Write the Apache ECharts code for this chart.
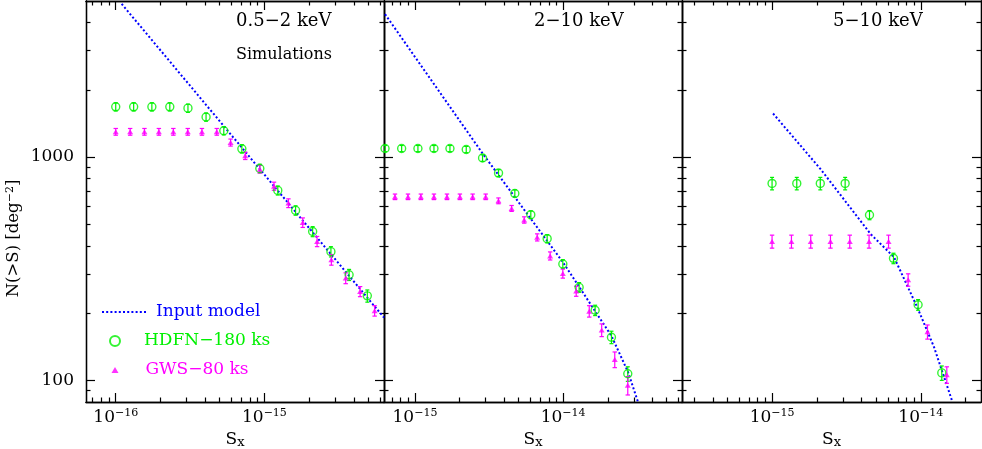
<!DOCTYPE html>
<html><head><meta charset="utf-8">
<script src="https://cdn.jsdelivr.net/npm/echarts@6/dist/echarts.min.js"></script>
<style>html,body{margin:0;padding:0;background:#fff}#c{width:982px;height:449px}</style>
</head><body><div id="c"></div>
<script>
// ---------------- data ----------------
const panelTitles = ['0.5\u22122 keV', '2\u221210 keV', '5\u221210 keV'];
const subTitle = 'Simulations';
const seriesNames = ['Input model', 'HDFN\u2212180 ks', 'GWS\u221280 ks'];

// axis ranges
const xRanges = [[6.31e-17, 6.37e-15], [6.18e-16, 6.34e-14], [2.48e-16, 2.54e-14]];
const yRange = [80, 5000];
const xLabelTicks = [[1e-16, 1e-15], [1e-15, 1e-14], [1e-15, 1e-14]];
const yLabelTicks = [100, 1000];

// panel 1 : 0.5-2 keV
const model1X = [1.096e-16, 9.31e-16, 6.37e-15];
const model1Y = [4853, 883, 191];
const hdfn1X = [1.00e-16, 1.32e-16, 1.75e-16, 2.31e-16, 3.06e-16, 4.05e-16, 5.33e-16, 7.05e-16, 9.31e-16, 1.23e-15, 1.62e-15, 2.11e-15, 2.80e-15, 3.71e-15, 4.92e-15];
const hdfn1Y = [1679, 1679, 1679, 1679, 1656, 1511, 1312, 1089, 889, 709, 577, 464, 377, 297, 239];
const hdfn1E = [70, 70, 70, 70, 70, 63, 55, 46, 40, 33, 28, 24, 20, 17, 15];
const gws1X = [1.00e-16, 1.25e-16, 1.56e-16, 1.95e-16, 2.44e-16, 3.05e-16, 3.80e-16, 4.78e-16, 5.92e-16, 7.43e-16, 9.31e-16, 1.16e-15, 1.45e-15, 1.81e-15, 2.26e-15, 2.82e-15, 3.52e-15, 4.40e-15, 5.51e-15];
const gws1Y = [1298, 1298, 1298, 1298, 1298, 1298, 1298, 1298, 1162, 1013, 883, 741, 622, 509, 419, 347, 287, 250, 205];
const gws1E = [45, 45, 45, 45, 45, 45, 45, 45, 42, 38, 35, 31, 28, 25, 22, 19, 16, 13, 11];

// panel 2 : 2-10 keV
const model2X = [6.28e-16, 2.86e-15, 1.0e-14, 2.12e-14, 2.74e-14, 3.2e-14];
const model2Y = [4365, 1038, 337, 158, 109, 80];
const hdfn2X = [6.28e-16, 8.13e-16, 1.047e-15, 1.343e-15, 1.722e-15, 2.218e-15, 2.858e-15, 3.664e-15, 4.72e-15, 6.05e-15, 7.80e-15, 9.95e-15, 1.282e-14, 1.644e-14, 2.118e-14, 2.73e-14];
const hdfn2Y = [1092, 1092, 1092, 1092, 1092, 1081, 990, 848, 687, 552, 431, 332, 261, 206, 156, 107];
const hdfn2E = [35, 35, 35, 35, 35, 35, 33, 30, 26, 22, 18, 15, 13, 11, 10, 8];
const gws2X = [7.33e-16, 8.97e-16, 1.096e-15, 1.343e-15, 1.644e-15, 2.01e-15, 2.45e-15, 3.00e-15, 3.66e-15, 4.49e-15, 5.46e-15, 6.68e-15, 8.17e-15, 9.95e-15, 1.225e-14, 1.50e-14, 1.82e-14, 2.23e-14, 2.73e-14];
const gws2Y = [664, 664, 664, 664, 664, 664, 664, 664, 637, 589, 523, 437, 361, 301, 251, 204, 168, 124, 95];
const gws2E = [19, 19, 19, 19, 19, 19, 19, 19, 19, 18, 17, 16, 15, 14, 13, 12, 11, 10, 9];

// panel 3 : 5-10 keV
const model3X = [1.016e-15, 2.12e-15, 4.60e-15, 6.61e-15, 9.48e-15, 1.227e-14, 1.633e-14];
const model3Y = [1567, 883, 452, 356, 212, 141, 80];
const hdfn3X = [1.00e-15, 1.466e-15, 2.11e-15, 3.10e-15, 4.52e-15, 6.55e-15, 9.59e-15, 1.384e-14];
const hdfn3Y = [762, 762, 762, 762, 550, 352, 218, 108];
const hdfn3E = [49, 49, 49, 49, 26, 19, 12, 8];
const gws3X = [1.00e-15, 1.35e-15, 1.82e-15, 2.47e-15, 3.33e-15, 4.49e-15, 6.07e-15, 8.22e-15, 1.109e-14, 1.496e-14];
const gws3Y = [419, 419, 419, 419, 419, 419, 419, 282, 165, 106];
const gws3E = [28, 28, 28, 28, 28, 28, 28, 18, 12, 9];

// ---------------- build chart ----------------
const FONT = 'DejaVu Serif';
const BLUE = '#0000ff', GREEN = '#00f000', MAGENTA = '#ff00ff';
const L = Math.log10;

const panels = [
  {mx: model1X, my: model1Y, hx: hdfn1X, hy: hdfn1Y, he: hdfn1E, gx: gws1X, gy: gws1Y, ge: gws1E},
  {mx: model2X, my: model2Y, hx: hdfn2X, hy: hdfn2Y, he: hdfn2E, gx: gws2X, gy: gws2Y, ge: gws2E},
  {mx: model3X, my: model3Y, hx: hdfn3X, hy: hdfn3Y, he: hdfn3E, gx: gws3X, gy: gws3Y, ge: gws3E}
];

function pts(xs, ys) { return xs.map((x, i) => [L(x), L(ys[i])]); }
function errs(xs, ys, es) { return xs.map((x, i) => [L(x), L(ys[i] - es[i]), L(ys[i] + es[i])]); }
function minorTicks(lo, hi) {
  const out = [];
  for (let d = Math.floor(lo) - 1; d <= Math.ceil(hi); d++) {
    for (let m = 2; m <= 9; m++) {
      const v = d + L(m);
      if (v > lo + 1e-4 && v < hi - 1e-4) out.push(v);
    }
  }
  return out;
}

const grids = [
  {left: 86, top: 1, width: 298, height: 401},
  {left: 384, top: 1, width: 298, height: 401},
  {left: 682, top: 1, width: 299, height: 401}
].map(g => Object.assign(g, {outerBoundsMode: 'none', containLabel: false}));

const yLo = L(yRange[0]), yHi = L(yRange[1]);
const yMajor = yLabelTicks.map(L);
const yMinor = minorTicks(yLo, yHi);

const xAxes = [], yAxes = [];
const lineSt = {color: '#000', width: 1.3};
const tickSt = {color: '#000', width: 1.2};

function axisBase(g, pos, lo, hi, major, majors, minors) {
  return {
    type: 'value', gridIndex: g, position: pos, min: lo, max: hi,
    axisLine: {show: true, onZero: false, lineStyle: lineSt},
    axisTick: {show: true, inside: true, length: major ? 9 : 4.5, customValues: major ? majors : minors, lineStyle: tickSt},
    axisLabel: {show: false},
    splitLine: {show: false}
  };
}

for (let g = 0; g < 3; g++) {
  const lo = L(xRanges[g][0]), hi = L(xRanges[g][1]);
  const xMaj = xLabelTicks[g].map(L);
  const xMin = minorTicks(lo, hi);
  const xb = axisBase(g, 'bottom', lo, hi, true, xMaj, xMin);
  xb.axisLabel = {
    show: true, customValues: xMaj, margin: 6,
    formatter: v => '{b|10}{s|\u2212' + Math.round(-v) + '}',
    rich: {
      b: {fontFamily: FONT, fontSize: 17, lineHeight: 20, color: '#000'},
      s: {fontFamily: FONT, fontSize: 11, lineHeight: 12, verticalAlign: 'top', color: '#000'}
    }
  };
  xb.name = '{b|S}{s|x}';
  xb.nameLocation = 'middle';
  xb.nameGap = 26;
  xb.nameTextStyle = {
    rich: {
      b: {fontFamily: FONT, fontSize: 17, lineHeight: 18, color: '#000'},
      s: {fontFamily: FONT, fontSize: 13, lineHeight: 6, verticalAlign: 'bottom', color: '#000'}
    }
  };
  xAxes.push(xb);
  xAxes.push(axisBase(g, 'bottom', lo, hi, false, xMaj, xMin));
  xAxes.push(axisBase(g, 'top', lo, hi, true, xMaj, xMin));
  xAxes.push(axisBase(g, 'top', lo, hi, false, xMaj, xMin));

  const yl = axisBase(g, 'left', yLo, yHi, true, yMajor, yMinor);
  if (g === 0) {
    yl.axisLabel = {
      show: true, customValues: yMajor, margin: 12,
      formatter: v => String(Math.round(Math.pow(10, v))),
      fontFamily: FONT, fontSize: 17, color: '#000'
    };
    yl.name = '{b|N(>S) [deg}{s|\u22122}{b|]}';
    yl.nameLocation = 'middle';
    yl.nameGap = 63;
    yl.nameTextStyle = {
      padding: [0, 74, 0, 0],
      rich: {
        b: {fontFamily: FONT, fontSize: 16.5, lineHeight: 18, color: '#000'},
        s: {fontFamily: FONT, fontSize: 11, lineHeight: 12, verticalAlign: 'top', color: '#000'}
      }
    };
  }
  yAxes.push(yl);
  yAxes.push(axisBase(g, 'left', yLo, yHi, false, yMajor, yMinor));
  yAxes.push(axisBase(g, 'right', yLo, yHi, true, yMajor, yMinor));
  yAxes.push(axisBase(g, 'right', yLo, yHi, false, yMajor, yMinor));
}

function errRender(cap, color, width) {
  return function (params, api) {
    const x = api.value(0), lo = api.value(1), hi = api.value(2);
    const p1 = api.coord([x, lo]), p2 = api.coord([x, hi]);
    const st = {stroke: color, lineWidth: width};
    return {type: 'group', children: [
      {type: 'line', shape: {x1: p1[0], y1: p1[1], x2: p2[0], y2: p2[1]}, style: st},
      {type: 'line', shape: {x1: p1[0] - cap, y1: p1[1], x2: p1[0] + cap, y2: p1[1]}, style: st},
      {type: 'line', shape: {x1: p2[0] - cap, y1: p2[1], x2: p2[0] + cap, y2: p2[1]}, style: st}
    ]};
  };
}

const DOT = {color: BLUE, width: 2, type: [2, 2.2]};
const series = [];
panels.forEach((p, g) => {
  const xi = 4 * g, yi = 4 * g;
  series.push({
    name: seriesNames[0], type: 'line', xAxisIndex: xi, yAxisIndex: yi,
    data: pts(p.mx, p.my), symbol: 'none', clip: true, z: 2,
    lineStyle: DOT, itemStyle: {color: BLUE}
  });
  series.push({
    name: 'hdfn-err', type: 'custom', xAxisIndex: xi, yAxisIndex: yi,
    data: errs(p.hx, p.hy, p.he), renderItem: errRender(2, GREEN, 1.2), clip: true, z: 3,
    encode: {x: 0, y: [1, 2]}, silent: true
  });
  series.push({
    name: seriesNames[1], type: 'scatter', xAxisIndex: xi, yAxisIndex: yi,
    data: pts(p.hx, p.hy), symbol: 'circle', symbolSize: 8, z: 4,
    itemStyle: {color: 'rgba(0,0,0,0)', borderColor: GREEN, borderWidth: 1.4}
  });
  series.push({
    name: 'gws-err', type: 'custom', xAxisIndex: xi, yAxisIndex: yi,
    data: errs(p.gx, p.gy, p.ge), renderItem: errRender(2.2, MAGENTA, 1.2), clip: true, z: 3,
    encode: {x: 0, y: [1, 2]}, silent: true
  });
  series.push({
    name: seriesNames[2], type: 'scatter', xAxisIndex: xi, yAxisIndex: yi,
    data: pts(p.gx, p.gy), symbol: 'triangle', symbolSize: [6, 5], z: 4,
    itemStyle: {color: MAGENTA}
  });
});

const titleSt = {fontFamily: FONT, fontSize: 18, fontWeight: 'normal', color: '#000'};
const titles = [
  {text: panelTitles[0], left: 236, top: 12, padding: 0, textStyle: titleSt},
  {text: subTitle, left: 236, top: 47, padding: 0, textStyle: Object.assign({}, titleSt, {fontSize: 16})},
  {text: panelTitles[1], left: 534, top: 12, padding: 0, textStyle: titleSt},
  {text: panelTitles[2], left: 833, top: 12, padding: 0, textStyle: titleSt}
];

function leg(name, left, top, w, h, color, pad, extra) {
  return Object.assign({
    data: [name], left: left, top: top, itemWidth: w, itemHeight: h, padding: 0,
    selectedMode: false, orient: 'vertical',
    textStyle: {color: color, fontFamily: FONT, fontSize: 17, lineHeight: 18, padding: [0, 0, 0, pad]}
  }, extra || {});
}
const legends = [
  leg(seriesNames[0], 101, 303, 45, 18, BLUE, 4, {itemStyle: {opacity: 0}, lineStyle: {width: 2, type: [2, 2.2], color: BLUE}}),
  leg(seriesNames[1], 109, 332, 10, 18, GREEN, 19),
  leg(seriesNames[2], 111.5, 360, 7, 18, MAGENTA, 22, {itemHeight: 6, top: 361})
];

const chart = echarts.init(document.getElementById('c'), null, {renderer: 'canvas'});
chart.setOption({
  animation: false,
  backgroundColor: '#fff',
  title: titles,
  legend: legends,
  grid: grids,
  xAxis: xAxes,
  yAxis: yAxes,
  series: series
});
</script></body></html>
